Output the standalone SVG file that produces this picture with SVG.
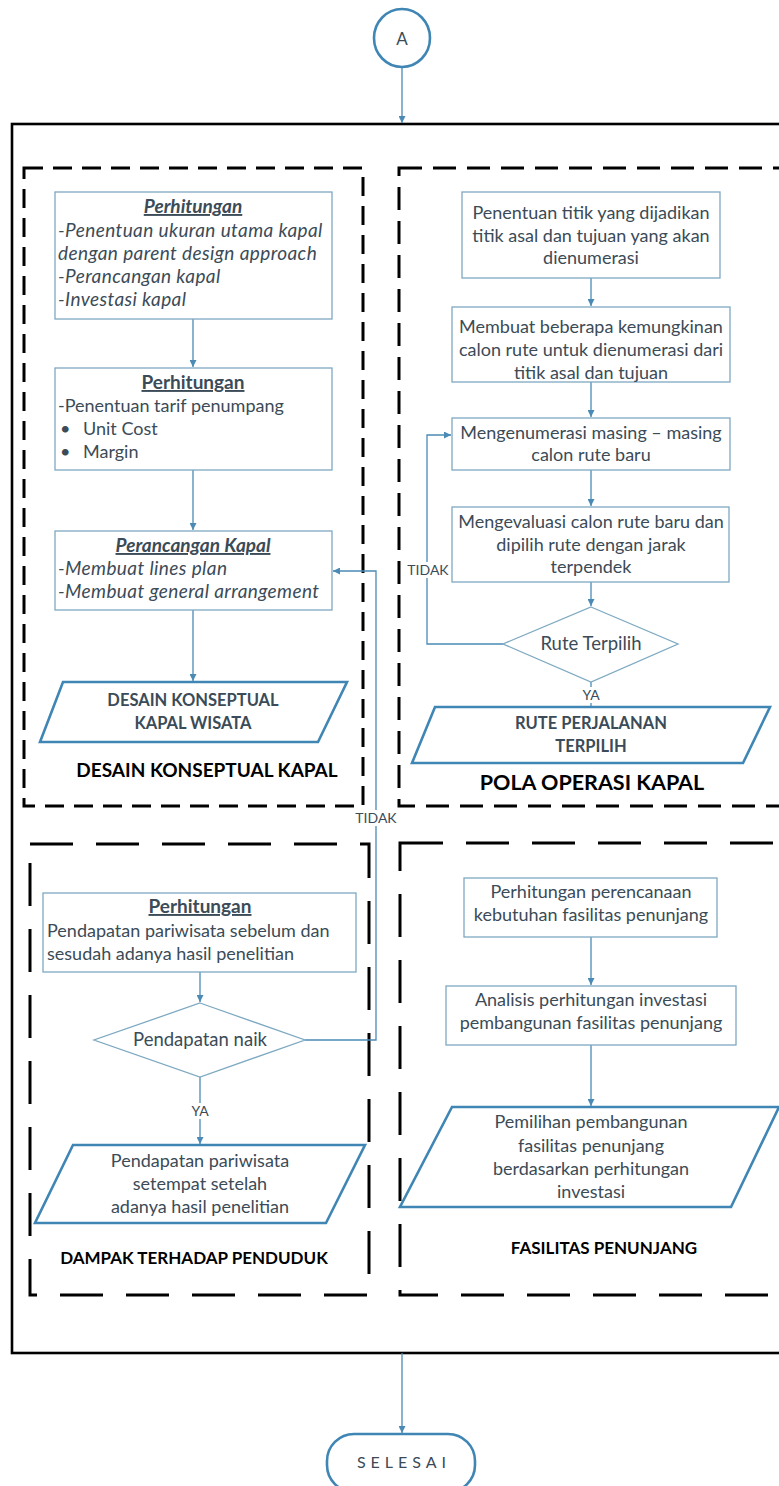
<svg xmlns="http://www.w3.org/2000/svg" width="779" height="1486" viewBox="0 0 779 1486">
<style>
  .bg{fill:#ffffff}
  .node{fill:#ffffff;stroke:#7ea9c2;stroke-width:1.3}
  .io{fill:#ffffff;stroke:#3f86b4;stroke-width:2.6}
  .term{fill:#ffffff;stroke:#3f86b4;stroke-width:2.6}
  .conn{fill:none;stroke:#4a8ab5;stroke-width:1.3}
  .outer{fill:none;stroke:#000000;stroke-width:2.6}
  .dashA{fill:none;stroke:#000000;stroke-width:3;stroke-dasharray:19 10}
  .dashB{fill:none;stroke:#000000;stroke-width:3;stroke-dasharray:23 11}
  .dashC{fill:none;stroke:#000000;stroke-width:3;stroke-dasharray:43 23}
  text{font-family:Lato,"Liberation Sans",sans-serif;font-size:18px;fill:#3b4b57}
  .c{text-anchor:middle}
  .b{font-weight:bold}
  .i{font-style:italic;font-size:19px}
  .ls{letter-spacing:0.4px}
  .h{font-size:19px}
  .u{text-decoration:underline}
  .io-t{font-size:16.5px}
  .lab{font-family:Lato,"Liberation Sans",sans-serif;font-weight:bold;fill:#000000;text-anchor:middle}
  .sm{font-size:14px}
</style>
<defs>
  <marker id="arr" viewBox="0 0 10 10" refX="10" refY="5" markerWidth="7" markerHeight="7" orient="auto" markerUnits="userSpaceOnUse">
    <path d="M0,0 L10,5 L0,10 z" fill="#4a8ab5"/>
  </marker>
</defs>
<rect class="bg" x="0" y="0" width="779" height="1486"/>

<!-- containers -->
<g id="containers">
  <rect class="outer" x="12" y="124" width="800" height="1229"/>
  <rect class="dashA" x="24" y="168" width="339" height="638"/>
  <rect class="dashB" x="399" y="168" width="420" height="638"/>
  <rect class="dashC" x="30" y="844" width="339" height="451"/>
  <rect class="dashC" x="400" y="843" width="420" height="452"/>
</g>

<!-- connectors -->
<g id="connectors">
  <line class="conn" x1="402" y1="67" x2="402" y2="123" marker-end="url(#arr)"/>
  <line class="conn" x1="193" y1="319" x2="193" y2="367" marker-end="url(#arr)"/>
  <line class="conn" x1="193" y1="470" x2="193" y2="530" marker-end="url(#arr)"/>
  <line class="conn" x1="193" y1="610" x2="193" y2="681" marker-end="url(#arr)"/>
  <line class="conn" x1="591" y1="278" x2="591" y2="306" marker-end="url(#arr)"/>
  <line class="conn" x1="591" y1="382" x2="591" y2="417" marker-end="url(#arr)"/>
  <line class="conn" x1="591" y1="470" x2="591" y2="506" marker-end="url(#arr)"/>
  <line class="conn" x1="591" y1="582" x2="591" y2="606" marker-end="url(#arr)"/>
  <polyline class="conn" points="503,644 427,644 427,435 451,435" marker-end="url(#arr)"/>
  <line class="conn" x1="591" y1="682" x2="591" y2="706"/>
  <line class="conn" x1="200" y1="972" x2="200" y2="1002" marker-end="url(#arr)"/>
  <line class="conn" x1="200" y1="1077" x2="200" y2="1144" marker-end="url(#arr)"/>
  <polyline class="conn" points="305,1040 376,1040 376,571 333,571" marker-end="url(#arr)"/>
  <line class="conn" x1="591" y1="937" x2="591" y2="985" marker-end="url(#arr)"/>
  <line class="conn" x1="591" y1="1045" x2="591" y2="1106" marker-end="url(#arr)"/>
  <line class="conn" x1="402" y1="1353" x2="402" y2="1433" marker-end="url(#arr)"/>
  <rect class="bg" x="354" y="810" width="44" height="16"/>
  <text x="376" y="823" class="c sm">TIDAK</text>
  <rect class="bg" x="406" y="562" width="44" height="16"/>
  <text x="428" y="575" class="c sm">TIDAK</text>
  <rect class="bg" x="580" y="687" width="22" height="16"/>
  <text x="591" y="700" class="c sm">YA</text>
  <rect class="bg" x="189" y="1103" width="22" height="16"/>
  <text x="200" y="1116" class="c sm">YA</text>
</g>

<g id="start">
  <ellipse class="term" cx="402" cy="38" rx="28" ry="29"/>
  <text x="402" y="45" class="c" style="font-size:17px">A</text>
</g>

<g id="perhitungan1">
  <rect class="node" x="55" y="192" width="277" height="127"/>
  <text x="193" y="213" class="c b i u">Perhitungan</text>
  <text x="58" y="237" class="i ls">-Penentuan ukuran utama kapal</text>
  <text x="58" y="260" class="i ls">dengan parent design approach</text>
  <text x="58" y="283" class="i ls">-Perancangan kapal</text>
  <text x="58" y="306" class="i ls">-Investasi kapal</text>
</g>

<g id="perhitungan2">
  <rect class="node" x="55" y="368" width="277" height="102"/>
  <text x="193" y="389" class="c b u h">Perhitungan</text>
  <text x="58" y="412">-Penentuan tarif penumpang</text>
  <text x="60" y="435">•</text>
  <text x="83" y="435">Unit Cost</text>
  <text x="60" y="458">•</text>
  <text x="83" y="458">Margin</text>
</g>

<g id="perancangan">
  <rect class="node" x="55" y="531" width="277" height="79"/>
  <text x="193" y="552" class="c b i u">Perancangan Kapal</text>
  <text x="58" y="575" class="i ls">-Membuat lines plan</text>
  <text x="58" y="598" class="i ls">-Membuat general arrangement</text>
</g>

<g id="desain-output">
  <polygon class="io" points="63,682 347,682 318,742 40,742"/>
  <text x="193" y="706" class="c b io-t">DESAIN KONSEPTUAL</text>
  <text x="193" y="729" class="c b io-t">KAPAL WISATA</text>
</g>
<text id="label-desain" x="207" y="777" class="lab" style="font-size:19px">DESAIN KONSEPTUAL KAPAL</text>

<g id="penentuan-titik">
  <rect class="node" x="462" y="192" width="258" height="86"/>
  <text x="591" y="219" class="c">Penentuan titik yang dijadikan</text>
  <text x="591" y="242" class="c">titik asal dan tujuan yang akan</text>
  <text x="591" y="264" class="c">dienumerasi</text>
</g>

<g id="membuat-calon">
  <rect class="node" x="452" y="307" width="278" height="75"/>
  <text x="591" y="333" class="c">Membuat beberapa kemungkinan</text>
  <text x="591" y="356" class="c">calon rute untuk dienumerasi dari</text>
  <text x="591" y="379" class="c">titik asal dan tujuan</text>
</g>

<g id="mengenumerasi">
  <rect class="node" x="452" y="418" width="278" height="52"/>
  <text x="591" y="439" class="c">Mengenumerasi masing – masing</text>
  <text x="591" y="461" class="c">calon rute baru</text>
</g>

<g id="mengevaluasi">
  <rect class="node" x="452" y="507" width="277" height="75"/>
  <text x="591" y="528" class="c">Mengevaluasi calon rute baru dan</text>
  <text x="591" y="551" class="c">dipilih rute dengan jarak</text>
  <text x="591" y="573" class="c">terpendek</text>
</g>

<g id="rute-terpilih">
  <polygon class="node" points="591,607 678,644 591,682 503,644"/>
  <text x="591" y="650" class="c" style="font-size:18.5px">Rute Terpilih</text>
</g>

<g id="rute-output">
  <polygon class="io" points="435,707 770,707 743,763 412,763"/>
  <text x="591" y="729" class="c b io-t">RUTE PERJALANAN</text>
  <text x="591" y="752" class="c b io-t">TERPILIH</text>
</g>
<text id="label-pola" x="592" y="790" class="lab" style="font-size:21.5px">POLA OPERASI KAPAL</text>

<g id="perhitungan3">
  <rect class="node" x="43" y="893" width="313" height="79"/>
  <text x="200" y="913" class="c b u h">Perhitungan</text>
  <text x="47" y="937">Pendapatan pariwisata sebelum dan</text>
  <text x="47" y="960">sesudah adanya hasil penelitian</text>
</g>

<g id="pendapatan-naik">
  <polygon class="node" points="200,1003 305,1040 200,1077 94,1040"/>
  <text x="200" y="1046" class="c" style="font-size:18.5px">Pendapatan naik</text>
</g>

<g id="pendapatan-output">
  <polygon class="io" points="73,1145 365,1145 326,1223 35,1223"/>
  <text x="200" y="1167" class="c">Pendapatan pariwisata</text>
  <text x="200" y="1190" class="c">setempat setelah</text>
  <text x="200" y="1213" class="c">adanya hasil penelitian</text>
</g>
<text id="label-dampak" x="194" y="1264" class="lab" style="font-size:17px">DAMPAK TERHADAP PENDUDUK</text>

<g id="perencanaan-fasilitas">
  <rect class="node" x="464" y="878" width="253" height="59"/>
  <text x="591" y="898" class="c">Perhitungan perencanaan</text>
  <text x="591" y="921" class="c">kebutuhan fasilitas penunjang</text>
</g>

<g id="analisis-investasi">
  <rect class="node" x="446" y="986" width="290" height="59"/>
  <text x="591" y="1006" class="c">Analisis perhitungan investasi</text>
  <text x="591" y="1029" class="c">pembangunan fasilitas penunjang</text>
</g>

<g id="fasilitas-output">
  <polygon class="io" points="452,1107 779,1107 731,1207 400,1207"/>
  <text x="591" y="1128" class="c">Pemilihan pembangunan</text>
  <text x="591" y="1152" class="c">fasilitas penunjang</text>
  <text x="591" y="1175" class="c">berdasarkan perhitungan</text>
  <text x="591" y="1198" class="c">investasi</text>
</g>
<text id="label-fasilitas" x="604" y="1254" class="lab" style="font-size:17px">FASILITAS PENUNJANG</text>

<g id="selesai">
  <rect class="term" x="327" y="1434" width="148" height="58" rx="27"/>
  <text x="404" y="1468" class="c" style="font-size:16px;letter-spacing:5px">SELESAI</text>
</g>
</svg>
